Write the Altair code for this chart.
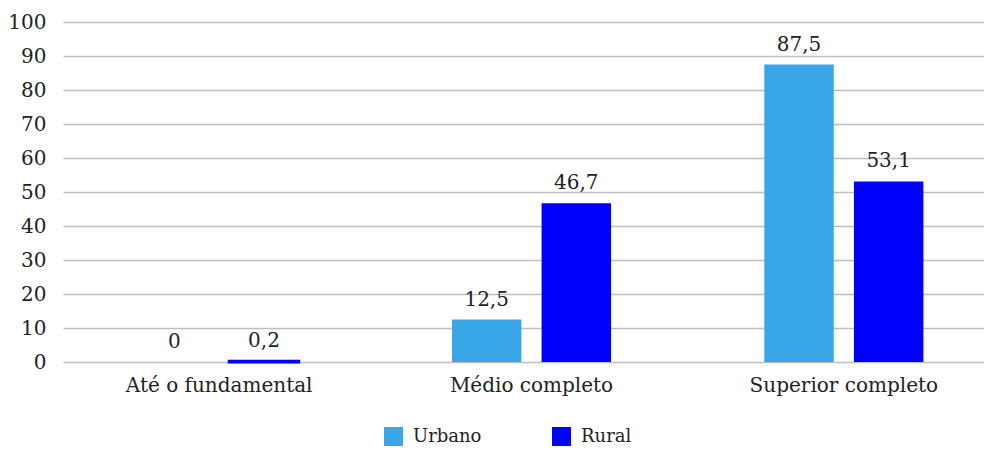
import altair as alt
import pandas as pd

categories = ["Até o fundamental", "Médio completo", "Superior completo"]
series = ["Urbano", "Rural"]
urbano = [0, 12.5, 87.5]
rural = [0.2, 46.7, 53.1]
colors = ["#38A6E7", "#0000FF"]
y_ticks = [0, 10, 20, 30, 40, 50, 60, 70, 80, 90, 100]

rows = []
for i, c in enumerate(categories):
    for s, vals in zip(series, [urbano, rural]):
        v = vals[i]
        rows.append({"cat": c, "serie": s, "valor": v,
                     "rotulo": (f"{v:.1f}".replace(".", ",") if v != int(v) else str(int(v)))})
df = pd.DataFrame(rows)

FONT = "DejaVu Serif"

base = alt.Chart(df).encode(
    x=alt.X("cat:N", sort=categories, title=None,
            scale=alt.Scale(paddingInner=0, paddingOuter=0, range=[-4, 933]),
            axis=alt.Axis(labelAngle=0, labelFont=FONT, labelFontSize=20, labelColor="#222222",
                          labelPadding=13, labelLimit=400, ticks=False, domain=False)),
    xOffset=alt.XOffset("serie:N", sort=series,
                        scale=alt.Scale(paddingInner=0.225, paddingOuter=0.855)),
    y=alt.Y("valor:Q", title=None,
            scale=alt.Scale(domain=[0, 100]),
            axis=alt.Axis(values=y_ticks, labelOverlap=False, labelFont=FONT, labelFontSize=20,
                          labelColor="#222222", labelPadding=21, ticks=False, domain=False,
                          gridColor="#BEBEBE", gridWidth=1.3)),
)

bars = base.mark_bar().encode(
    color=alt.Color("serie:N", sort=series, title=None,
                    scale=alt.Scale(domain=series, range=colors),
                    legend=alt.Legend(orient="none", direction="horizontal", legendX=317, legendY=405,
                                      symbolType="square", symbolSize=360, symbolStrokeWidth=0,
                                      labelFont=FONT, labelFontSize=18, labelColor="#222222",
                                      labelOffset=10, columnPadding=70)),
    stroke=alt.Color("serie:N", sort=series, scale=alt.Scale(domain=series, range=colors), legend=None),
    strokeWidth=alt.condition("datum.valor > 0 && datum.valor < 1", alt.value(3), alt.value(0)),
)

labels = base.mark_text(font=FONT, fontSize=20, color="#222222", dy=-20).encode(
    text="rotulo:N",
)

chart = (bars + labels).properties(
    width=917, height=340,
    autosize="none",
    padding={"left": 59, "top": 14, "right": 0, "bottom": 88},
).configure_view(stroke=None)

chart.save("out.html", embed_options={"renderer": "svg", "actions": False})
